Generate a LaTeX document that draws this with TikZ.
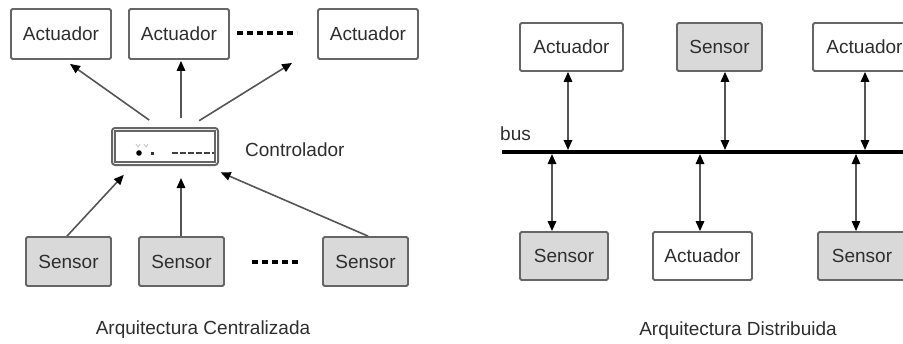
\documentclass[tikz,border=0pt]{standalone}
\usepackage{fontspec}
\setmainfont{Liberation Sans}
\usetikzlibrary{arrows.meta,calc}
\definecolor{edgec}{HTML}{666666}
\definecolor{fillg}{HTML}{D9D9D9}
\definecolor{txtc}{HTML}{2E2E2E}
\definecolor{connc}{HTML}{555555}
\tikzset{
  lbl/.style={font=\fontsize{19}{22}\selectfont, text=txtc, inner sep=0pt},
  box/.style={lbl, draw=edgec, line width=1.8pt, rounded corners=1.5pt, rectangle},
  abox/.style={box, fill=white},
  sbox/.style={box, fill=fillg},
  tipb/.tip={Triangle[length=10pt,width=8.5pt,color=black]},
  conn/.style={draw=connc, line width=1.6pt, -tipb},
  dconn/.style={draw=connc, line width=1.6pt, tipb-tipb},
  dots/.style={draw=black, line width=3.2pt, dash pattern=on 6pt off 4pt},
  busline/.style={draw=black, line width=4pt}
}
\begin{document}
\begin{tikzpicture}[x=1pt,y=-1pt]
\clip (0,0) rectangle (903,343);
\fill[white] (0,0) rectangle (903,343);
% ---------- Left: centralized ----------
\node[abox, minimum width=100pt, minimum height=50pt] (a1) at (61,34) {Actuador};
\node[abox, minimum width=100pt, minimum height=50pt] (a2) at (179,34) {Actuador};
\node[abox, minimum width=100pt, minimum height=50pt] (a3) at (368,34) {Actuador};
\coordinate (d1s) at (237,33);
\coordinate (d1e) at (297,33);
\draw[dots] (d1s) -- (d1e);

\node[draw=edgec, line width=2pt, rounded corners=3pt, minimum width=106pt, minimum height=37pt, inner sep=0pt] (ctrl) at (165,146.5) {};
\draw[edgec, line width=1.2pt] ($(ctrl.north west)+(4,4)$) rectangle ($(ctrl.south east)+(-4,-4)$);
\fill[black] (139,153) circle (2.8pt);
\fill[black!80] (150.5,151.5) rectangle (154,155);
\draw[black!75, line width=2.6pt, dash pattern=on 6pt off 2pt] (172,153) -- (214,153);
\draw[black!25, line width=0.8pt] (136,144) -- (138,147) -- (140,144) (144,144) -- (146,147) -- (148,144);
\node[lbl, anchor=west] (ctrllbl) at (245,150) {Controlador};

\node[sbox, minimum width=85pt, minimum height=49pt] (s1) at (68.5,261.5) {Sensor};
\node[sbox, minimum width=85pt, minimum height=49pt] (s2) at (181.5,261.5) {Sensor};
\node[sbox, minimum width=85pt, minimum height=49pt] (s3) at (365.5,261.5) {Sensor};
\coordinate (d2s) at (252,262);
\coordinate (d2e) at (301,262);
\draw[dots] (d2s) -- (d2e);

\draw[conn, shorten <=12pt] ([xshift=-6pt]ctrl.north) -- ([xshift=9pt,yshift=-4pt]a1.south);
\draw[conn, shorten <=9pt] ([xshift=16pt]ctrl.north) -- ([xshift=2pt,yshift=-1pt]a2.south);
\draw[conn, shorten <=12pt] ([xshift=24pt]ctrl.north) -- ([xshift=-25pt,yshift=-3pt]a3.south west);

\draw[conn, shorten >=12pt] ([xshift=-1.5pt]s1.north) -- ([xshift=-33pt]ctrl.south);
\draw[conn, shorten >=12pt] ([xshift=-0.5pt]s2.north) -- ([xshift=16pt]ctrl.south);
\draw[conn, shorten >=16pt] ([xshift=2.5pt]s3.north) -- ([xshift=41pt]ctrl.south);

\node[lbl] (capL) at (203,330) {Arquitectura Centralizada};

% ---------- Right: distributed ----------
\coordinate (busL) at (502,152);
\coordinate (busR) at (910,152);
\draw[busline] (busL) -- (busR);
\node[lbl, anchor=south west] (buslbl) at (500,141) {bus};

\node[abox, minimum width=103pt, minimum height=48pt] (ra1) at (571.5,47) {Actuador};
\node[sbox, minimum width=85pt, minimum height=48pt] (rs1) at (719.5,47) {Sensor};
\node[abox, minimum width=103pt, minimum height=48pt] (ra3) at (864.5,47) {Actuador};

\node[sbox, minimum width=88pt, minimum height=48pt] (rs2) at (564,256) {Sensor};
\node[abox, minimum width=99pt, minimum height=48pt] (ra2) at (702.5,256) {Actuador};
\node[sbox, minimum width=88pt, minimum height=48pt] (rs3) at (862,256) {Sensor};

\draw[dconn] ([xshift=-3.5pt]ra1.south) -- ([xshift=-3.5pt,yshift=2pt]ra1.south |- busL);
\draw[dconn] ([xshift=5.5pt]rs1.south) -- ([xshift=5.5pt,yshift=2pt]rs1.south |- busL);
\draw[dconn] ([xshift=0.5pt]ra3.south) -- ([xshift=0.5pt,yshift=2pt]ra3.south |- busL);

\draw[dconn] ([xshift=-12pt,yshift=-2pt]rs2.north |- busL) -- ([xshift=-12pt]rs2.north);
\draw[dconn] ([xshift=-2.5pt,yshift=-2pt]ra2.north |- busL) -- ([xshift=-2.5pt]ra2.north);
\draw[dconn, line width=1.1pt] ([xshift=-6pt,yshift=-2pt]rs3.north |- busL) -- ([xshift=-6pt]rs3.north);

\node[lbl] (capR) at (738,331) {Arquitectura Distribuida};
\end{tikzpicture}
\end{document}
